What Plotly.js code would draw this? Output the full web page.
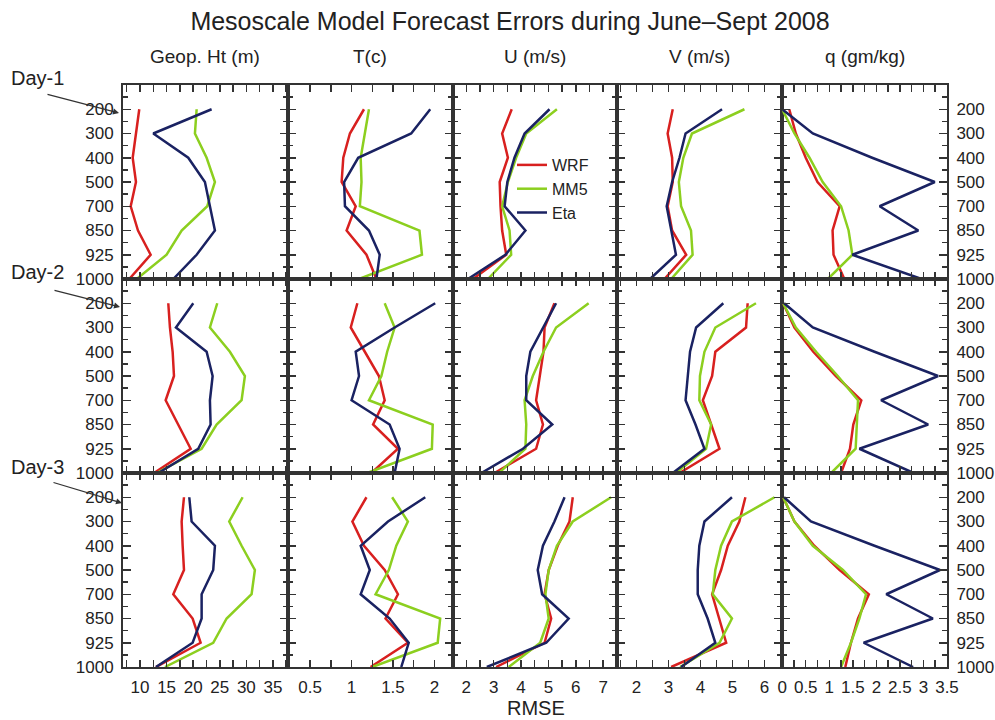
<!DOCTYPE html>
<html>
<head>
<meta charset="utf-8">
<script src="https://cdn.plot.ly/plotly-3.0.1.min.js"></script>
<style>html,body{margin:0;padding:0;background:#fff;}#chart{width:995px;height:720px;}</style>
</head>
<body>
<div id="chart"></div>
<script>
// ---------------- DATA ----------------
const levels = ['200', '300', '400', '500', '700', '850', '925', '1000'];
const models = ['WRF', 'MM5', 'Eta'];
const variables = ['Geop. Ht (m)', 'T(c)', 'U (m/s)', 'V (m/s)', 'q (gm/kg)'];
const days = ['Day-1', 'Day-2', 'Day-3'];

// each array: [Day-1, Day-2, Day-3], values at levels 200..1000 hPa (RMSE)
const geopHt_WRF = [[9.86, 9.24, 8.62, 9.24, 8.25, 9.62, 12.0, 7.98],
                    [15.32, 15.63, 16.14, 16.39, 14.82, 17.2, 19.53, 12.63],
                    [18.27, 17.83, 18.02, 18.27, 16.26, 19.9, 21.4, 13.0]];
const geopHt_MM5 = [[20.65, 20.33, 22.53, 24.09, 22.65, 17.83, 15.0, 9.38],
                    [24.53, 23.15, 26.91, 29.73, 29.11, 24.41, 21.59, 13.13],
                    [29.3, 26.78, 29.11, 31.61, 30.99, 26.29, 23.77, 14.7]];
const geopHt_Eta = [[23.47, 12.5, 19.07, 22.21, 23.15, 24.09, 20.65, 16.26],
                    [20.02, 16.76, 22.53, 23.66, 23.15, 23.28, 20.95, 13.44],
                    [19.27, 19.71, 24.09, 23.77, 21.59, 21.59, 19.9, 13.0]];

const temp_WRF = [[1.15, 0.98, 0.90, 0.88, 1.05, 0.94, 1.18, 1.30],
                  [1.07, 0.99, 1.16, 1.33, 1.40, 1.26, 1.56, 1.24],
                  [1.18, 1.01, 1.15, 1.40, 1.56, 1.41, 1.68, 1.23]];
const temp_MM5 = [[1.21, 1.16, 1.11, 1.12, 1.10, 1.82, 1.85, 1.09],
                  [1.40, 1.52, 1.43, 1.36, 1.21, 1.98, 1.97, 1.19],
                  [1.49, 1.68, 1.54, 1.45, 1.29, 2.07, 2.04, 1.25]];
const temp_Eta = [[1.95, 1.72, 1.08, 0.91, 0.92, 1.21, 1.34, 1.30],
                  [2.01, 1.52, 1.05, 1.09, 1.00, 1.46, 1.58, 1.52],
                  [1.89, 1.44, 1.11, 1.22, 1.11, 1.46, 1.69, 1.60]];

const uWind_WRF = [[3.66, 3.31, 3.52, 3.22, 3.25, 3.31, 3.46, 2.24],
                   [5.22, 4.86, 4.82, 4.68, 4.55, 4.80, 4.55, 3.03],
                   [5.89, 5.77, 5.34, 5.01, 4.86, 5.10, 4.86, 3.09]];
const uWind_MM5 = [[5.31, 4.19, 3.82, 3.52, 3.31, 3.58, 3.64, 2.79],
                   [6.47, 5.28, 4.82, 4.43, 4.13, 4.19, 4.16, 3.19],
                   [7.29, 5.89, 5.31, 5.01, 4.89, 5.01, 4.70, 3.55]];
const uWind_Eta = [[5.04, 4.13, 3.76, 3.50, 3.40, 4.16, 3.43, 2.06],
                   [5.28, 4.80, 4.34, 4.19, 4.19, 5.14, 4.07, 2.55],
                   [5.59, 5.22, 4.80, 4.61, 4.77, 5.74, 4.92, 2.75]];

const vWind_WRF = [[3.13, 2.97, 3.11, 3.13, 2.97, 3.11, 3.55, 2.87],
                   [5.47, 5.42, 4.46, 4.36, 4.07, 4.33, 4.59, 3.34],
                   [5.40, 5.21, 4.85, 4.64, 4.36, 4.59, 4.80, 3.08]];
const vWind_MM5 = [[5.37, 3.73, 3.46, 3.32, 3.39, 3.70, 3.75, 3.08],
                   [5.73, 4.46, 4.12, 3.98, 3.96, 4.33, 4.17, 3.23],
                   [6.31, 4.98, 4.64, 4.46, 4.38, 4.98, 4.59, 3.36]];
const vWind_Eta = [[4.67, 3.53, 3.34, 3.11, 2.94, 3.08, 3.23, 2.42],
                   [4.71, 3.86, 3.67, 3.60, 3.53, 3.84, 4.12, 3.13],
                   [4.98, 4.12, 3.96, 3.91, 3.91, 4.22, 4.46, 3.39]];

const humidity_WRF = [[0.15, 0.29, 0.50, 0.75, 1.22, 1.07, 1.09, 1.32],
                      [0.02, 0.26, 0.66, 1.14, 1.68, 1.51, 1.44, 1.25],
                      [0.02, 0.26, 0.68, 1.22, 1.84, 1.61, 1.46, 1.34]];
const humidity_MM5 = [[0.00, 0.26, 0.58, 0.86, 1.25, 1.41, 1.49, 0.97],
                      [0.02, 0.29, 0.72, 1.18, 1.61, 1.58, 1.56, 1.04],
                      [0.02, 0.26, 0.65, 1.29, 1.78, 1.64, 1.46, 1.25]];
const humidity_Eta = [[0.00, 0.65, 1.91, 3.24, 2.07, 2.89, 1.49, 2.96],
                      [0.04, 0.65, 1.96, 3.31, 2.10, 3.10, 1.64, 2.79],
                      [0.04, 0.61, 1.96, 3.35, 2.21, 3.20, 1.73, 2.78]];

const xTickVals = [
  [10, 15, 20, 25, 30, 35],
  [0.5, 1, 1.5, 2],
  [2, 3, 4, 5, 6, 7],
  [2, 3, 4, 5, 6],
  [0, 0.5, 1, 1.5, 2, 2.5, 3, 3.5]
];

// ---------------- STYLE / LAYOUT ----------------
const seriesByVar = [
  [geopHt_WRF, geopHt_MM5, geopHt_Eta],
  [temp_WRF, temp_MM5, temp_Eta],
  [uWind_WRF, uWind_MM5, uWind_Eta],
  [vWind_WRF, vWind_MM5, vWind_Eta],
  [humidity_WRF, humidity_MM5, humidity_Eta]
];
const colors = ['#d8201f', '#8ccf1f', '#1a2262'];
const xRanges = [[6.8, 37.8], [0.23, 2.22], [1.5, 7.52], [1.4, 6.55], [0, 3.5]];
const xMinor = [2.5, 0.25, 0.5, 0.5, 0.25];

const W = 995, H = 720;
const plotLeft = 123, colW = 164.8, plotTop = 85, rowH = 194;
const FONT = 'Liberation Sans, Arial, sans-serif';
const AX = '#333333';

const yPos = levels.map((_, i) => i);
const yMinorVals = levels.slice(0, -1).map((_, i) => i - 0.5).concat([levels.length - 1.5]);

const traces = [];
const layout = {
  width: W, height: H,
  margin: {l: 0, r: 0, t: 0, b: 0},
  paper_bgcolor: '#ffffff', plot_bgcolor: '#ffffff',
  font: {family: FONT, color: '#222', size: 17},
  showlegend: true,
  legend: {
    x: 512 / W, y: 1 - 148 / H, xanchor: 'left', yanchor: 'top',
    bgcolor: 'rgba(0,0,0,0)', borderwidth: 0,
    font: {family: FONT, size: 16, color: '#222'},
    tracegroupgap: 0
  },
  title: {
    text: 'Mesoscale Model Forecast Errors during June\u2013Sept 2008',
    x: 510 / W, xanchor: 'center', xref: 'paper',
    y: 1 - 21 / H, yanchor: 'middle', yref: 'container',
    font: {family: FONT, size: 25, color: '#222'}
  },
  annotations: []
};

for (let r = 0; r < 3; r++) {
  for (let c = 0; c < 5; c++) {
    const k = r * 5 + c + 1;
    const xa = 'xaxis' + (k === 1 ? '' : k);
    const ya = 'yaxis' + (k === 1 ? '' : k);
    const xref = 'x' + (k === 1 ? '' : k);
    const yref = 'y' + (k === 1 ? '' : k);
    const x0 = plotLeft + colW * c, x1 = x0 + colW;
    const yt = plotTop + rowH * r, yb = yt + rowH;

    layout[xa] = {
      domain: [x0 / W, x1 / W],
      anchor: yref,
      range: xRanges[c],
      tickmode: 'array', tickvals: xTickVals[c],
      showticklabels: r === 2,
      tickangle: 0,
      ticks: 'inside', ticklen: 7, tickwidth: 1.5, tickcolor: AX,
      minor: {dtick: xMinor[c], tick0: 0, ticks: 'inside', ticklen: 7, tickwidth: 1.5, tickcolor: AX, showgrid: false},
      showline: true, linecolor: AX, linewidth: 2, mirror: 'ticks',
      showgrid: false, zeroline: false,
      tickfont: {family: FONT, size: 17, color: '#222'},
      ticklabelstandoff: 4,
      fixedrange: true
    };
    layout[ya] = {
      domain: [1 - yb / H, 1 - yt / H],
      anchor: xref,
      range: [levels.length - 1, -1],
      tickmode: 'array', tickvals: yPos, ticktext: levels,
      showticklabels: c === 0 || c === 4,
      side: c === 4 ? 'right' : 'left',
      ticks: 'inside', ticklen: 8, tickwidth: 1.5, tickcolor: AX,
      minor: {tickmode: 'array', tickvals: yMinorVals, ticks: 'inside', ticklen: 5, tickwidth: 1.5, tickcolor: AX, showgrid: false},
      showline: true, linecolor: AX, linewidth: 2, mirror: 'ticks',
      showgrid: false, zeroline: false,
      tickfont: {family: FONT, size: 17, color: '#222'},
      ticklabelstandoff: 4,
      fixedrange: true
    };

    for (let m = 0; m < models.length; m++) {
      traces.push({
        type: 'scatter', mode: 'lines',
        x: seriesByVar[c][m][r], y: yPos,
        xaxis: xref, yaxis: yref,
        name: models[m], legendgroup: models[m],
        showlegend: r === 0 && c === 0,
        line: {color: colors[m], width: 2.5},
        hoverinfo: 'skip'
      });
    }
  }
}

// column titles
variables.forEach((v, c) => {
  layout.annotations.push({
    text: v, xref: 'paper', yref: 'paper',
    x: (plotLeft + colW * c + colW / 2) / W, y: 1 - 57 / H,
    xanchor: 'center', yanchor: 'middle', showarrow: false,
    font: {family: FONT, size: 19, color: '#222'}
  });
});

// day labels and arrows
const dayLabelY = [78, 272, 467];
const arrowHead = [[119, 113], [120, 307], [122, 503]];
const arrowTail = [[46, 94], [53, 290], [52, 482]];
days.forEach((d, r) => {
  layout.annotations.push({
    text: d, xref: 'paper', yref: 'paper',
    x: 37 / W, y: 1 - dayLabelY[r] / H,
    xanchor: 'center', yanchor: 'middle', showarrow: false,
    font: {family: FONT, size: 20, color: '#222'}
  });
  layout.annotations.push({
    text: '', xref: 'paper', yref: 'paper',
    x: arrowHead[r][0] / W, y: 1 - arrowHead[r][1] / H,
    ax: arrowTail[r][0] - arrowHead[r][0], ay: arrowTail[r][1] - arrowHead[r][1],
    showarrow: true, arrowhead: 2, arrowsize: 1, arrowwidth: 1.2,
    arrowcolor: '#333', standoff: 0, startstandoff: 0
  });
});

// x label
layout.annotations.push({
  text: 'RMSE', xref: 'paper', yref: 'paper',
  x: 536 / W, y: 1 - 708 / H, xanchor: 'center', yanchor: 'middle',
  showarrow: false, font: {family: FONT, size: 20, color: '#222'}
});

Plotly.newPlot('chart', traces, layout, {displayModeBar: false, staticPlot: true});
</script>
</body>
</html>
